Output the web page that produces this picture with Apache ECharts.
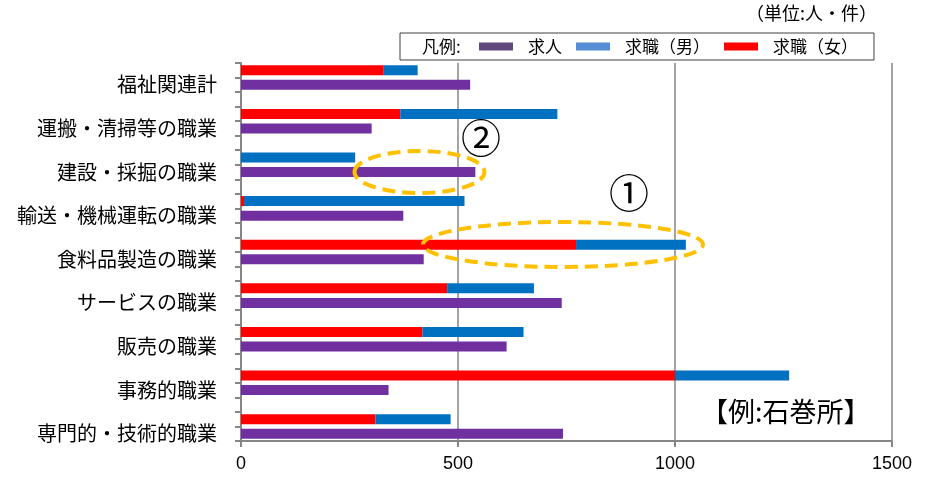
<!DOCTYPE html>
<html>
<head>
<meta charset="utf-8">
<script src="https://cdn.jsdelivr.net/npm/echarts@6/dist/echarts.min.js"></script>
<style>
html,body{margin:0;padding:0;background:#fff;}
#chart{width:929px;height:478px;}
</style>
</head>
<body>
<div id="chart"></div>
<script>
const categories = ['福祉関連計','運搬・清掃等の職業','建設・採掘の職業','輸送・機械運転の職業','食料品製造の職業','サービスの職業','販売の職業','事務的職業','専門的・技術的職業'];
const kyujin = [528, 301, 540, 374, 421, 739, 612, 340, 742];
const kyushokuFemale = [329, 367, 0, 7, 772, 475, 418, 1000, 310];
const kyushokuMale = [78, 362, 263, 508, 253, 200, 233, 263, 173];
const xTicks = [0, 500, 1000, 1500];
const seriesNames = ['求人', '求職（男）', '求職（女）'];

// Build rows: for each category a 求職 row, a 求人 row, and a spacer row
const rowKeys = [], rowLabels = {}, redData = [], blueData = [], purpleData = [];
categories.forEach((c, i) => {
  rowKeys.push('f' + i); rowLabels['f' + i] = '';
  redData.push(kyushokuFemale[i]); blueData.push(kyushokuMale[i]); purpleData.push('-');
  rowKeys.push('j' + i); rowLabels['j' + i] = c;
  redData.push('-'); blueData.push('-'); purpleData.push(kyujin[i]);
  if (i < categories.length - 1) {
    rowKeys.push('s' + i); rowLabels['s' + i] = '';
    redData.push('-'); blueData.push('-'); purpleData.push('-');
  }
});

const FONT = '"Noto Sans CJK JP", "Noto Sans", sans-serif';
const chart = echarts.init(document.getElementById('chart'), null, {renderer: 'canvas'});
const axisColor = '#868686';

chart.setOption({
  animation: false,
  backgroundColor: '#fff',
  grid: {left: 241, right: 37, top: 63, bottom: 37, containLabel: false},
  legend: {
    left: 400, top: 33,
    padding: [5, 16, 5, 79],
    borderColor: '#404040', borderWidth: 1,
    backgroundColor: '#fff',
    itemWidth: 34, itemHeight: 8, itemGap: 14,
    icon: 'rect',
    selectedMode: false,
    textStyle: {fontFamily: FONT, fontSize: 17, color: '#000', padding: [0, 0, 0, 10]},
    data: [
      {name: seriesNames[0], itemStyle: {color: '#604A7B'}},
      {name: seriesNames[1], itemStyle: {color: '#558ED5'}},
      {name: seriesNames[2], itemStyle: {color: '#FF0000'}}
    ]
  },
  xAxis: {
    type: 'value', min: xTicks[0], max: xTicks[xTicks.length - 1], interval: 500,
    axisLine: {show: true, lineStyle: {color: axisColor, width: 2}},
    axisTick: {show: true, length: 6, lineStyle: {color: axisColor, width: 2}},
    splitLine: {show: true, lineStyle: {color: axisColor, width: 1.5}},
    axisLabel: {fontFamily: '"Liberation Sans", Arial, sans-serif', fontSize: 18, color: '#000', margin: 14,
      formatter: v => String(v)}
  },
  yAxis: {
    type: 'category', inverse: true, data: rowKeys,
    axisLine: {show: true, lineStyle: {color: axisColor, width: 2}},
    axisTick: {show: true, interval: 0, length: 6, lineStyle: {color: axisColor, width: 2}},
    axisLabel: {interval: 0, fontFamily: FONT, fontSize: 20, color: '#000', margin: 24,
      formatter: v => rowLabels[v]},
    splitLine: {show: false}
  },
  series: [
    {name: seriesNames[2], type: 'bar', stack: 'a', data: redData, barWidth: 10,
      itemStyle: {color: '#FF0000'}},
    {name: seriesNames[1], type: 'bar', stack: 'a', data: blueData, barWidth: 10,
      itemStyle: {color: '#0070C0'}},
    {name: seriesNames[0], type: 'bar', stack: 'a', data: purpleData, barWidth: 10,
      itemStyle: {color: '#7030A0'}}
  ],
  graphic: [
    {type: 'text', left: 422, top: 38, z: 100,
      style: {text: '凡例:', font: '17px ' + FONT, fill: '#000'}},
    {type: 'text', right: 52, top: 4,
      style: {text: '（単位:人・件）', font: '18px ' + FONT, fill: '#000'}},
    {type: 'text', left: 701, top: 398,
      style: {text: '【例:石巻所】', font: '27px ' + FONT, fill: '#000'}},
    {type: 'ellipse', shape: {cx: 563, cy: 244.5, rx: 140, ry: 22.5}, z: 50,
      style: {fill: null, stroke: '#FFC000', lineWidth: 4, lineDash: [13, 7]}},
    {type: 'ellipse', shape: {cx: 419.5, cy: 172, rx: 65, ry: 21}, z: 50,
      style: {fill: null, stroke: '#FFC000', lineWidth: 4, lineDash: [13, 7]}},
    {type: 'text', z: 60, x: 629, y: 193,
      style: {text: '①', font: '40px ' + FONT, fill: '#000', textAlign: 'center', textVerticalAlign: 'middle'}},
    {type: 'text', z: 60, x: 481, y: 138,
      style: {text: '②', font: '40px ' + FONT, fill: '#000', textAlign: 'center', textVerticalAlign: 'middle'}}
  ]
});
</script>
</body>
</html>
